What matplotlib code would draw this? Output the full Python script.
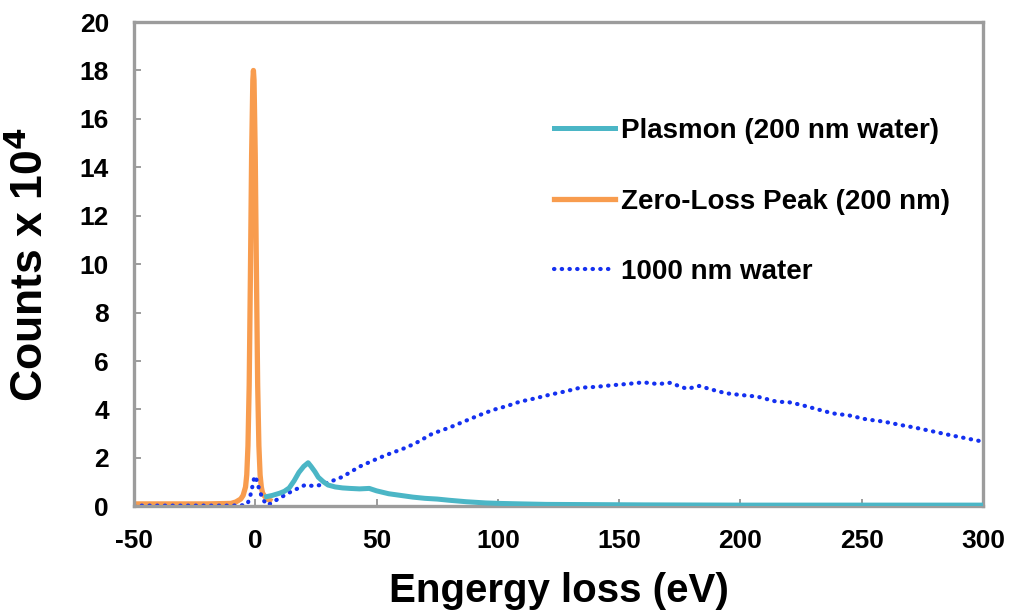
import matplotlib.pyplot as plt
from matplotlib.ticker import FixedLocator

# Energy loss spectra (counts x 10^4)
zlp_x = [-50, -40, -30, -20, -10, -8, -6, -5, -4, -3.5, -3, -2.5, -2, -1.5, -1,
         -0.75, -0.5, 0, 0.5, 1, 1.5, 2, 2.5, 3, 4, 5, 6]
zlp_y = [0.1, 0.1, 0.1, 0.1, 0.12, 0.18, 0.3, 0.45, 0.8, 1.3, 2.5, 5.0, 9.5, 14.5, 17.6,
         18.0, 17.6, 14.5, 9.5, 5.0, 2.5, 1.3, 0.8, 0.55, 0.4, 0.3, 0.25]

plasmon_x = [4.7, 7, 10, 12, 14, 16, 18, 20, 21.8, 23, 24.6, 26, 28, 30, 33, 36, 39,
             43, 47, 50, 55, 60, 65, 70, 75, 80, 87, 95, 101, 110, 120, 140, 160,
             200, 250, 300]
plasmon_y = [0.4, 0.45, 0.54, 0.62, 0.76, 1.05, 1.4, 1.65, 1.8, 1.65, 1.43, 1.2, 1.02,
             0.88, 0.8, 0.76, 0.74, 0.72, 0.74, 0.64, 0.52, 0.45, 0.38, 0.33, 0.3,
             0.25, 0.19, 0.14, 0.12, 0.1, 0.08, 0.07, 0.06, 0.05, 0.05, 0.05]

water_x = [-50, -40, -30, -20, -10, -4, -3, -2, -1, -0.3, 0.5, 1.5, 3, 5, 7, 9, 12,
           15, 18, 20.5, 24, 27, 31, 36, 43, 49, 54, 61, 66, 73, 80, 86, 92, 98,
           104, 109, 115, 121, 128, 134, 140, 147, 153, 160, 166, 171, 178, 183,
           189, 194, 200, 207, 215, 220, 225, 232, 238, 245, 252, 259, 266, 272,
           280, 286, 293, 300]
water_y = [0.03, 0.03, 0.03, 0.03, 0.03, 0.05, 0.15, 0.45, 0.9, 1.25, 1.1, 0.75,
           0.3, 0.05, 0.15, 0.28, 0.45, 0.62, 0.76, 0.88, 0.84, 0.88, 1.02, 1.22,
           1.64, 1.91, 2.12, 2.38, 2.6, 3.0, 3.25, 3.5, 3.75, 3.98, 4.15, 4.32,
           4.45, 4.6, 4.75, 4.9, 4.93, 5.0, 5.05, 5.12, 5.05, 5.1, 4.85, 4.97,
           4.8, 4.67, 4.6, 4.53, 4.32, 4.3, 4.19, 4.0, 3.84, 3.75, 3.59, 3.5,
           3.36, 3.25, 3.08, 2.95, 2.81, 2.67]

x_ticks = [-50, 0, 50, 100, 150, 200, 250, 300]
y_ticks = [0, 2, 4, 6, 8, 10, 12, 14, 16, 18, 20]

plt.rcParams['font.family'] = ['Liberation Sans', 'DejaVu Sans']
plt.rcParams['font.weight'] = 'bold'
plt.rcParams['axes.unicode_minus'] = False

fig = plt.figure(figsize=(10.11, 6.15), dpi=100)
ax = fig.add_axes([0.1325, 0.1767, 0.8398, 0.7875])

l3, = ax.plot(water_x, water_y, color='#1430f0', lw=3.0, linestyle=(0, (0.1, 1.75)),
              dash_capstyle='round', zorder=2, label='1000 nm water')
l1, = ax.plot(plasmon_x, plasmon_y, color='#4bb6c6', lw=3.6, zorder=3,
              label='Plasmon (200 nm water)')
l2, = ax.plot(zlp_x, zlp_y, color='#f89c4e', lw=3.8, zorder=1,
              label='Zero-Loss Peak (200 nm)')

ax.set_xlim(-50, 300)
ax.set_ylim(0, 20)
ax.xaxis.set_major_locator(FixedLocator(x_ticks))
ax.yaxis.set_major_locator(FixedLocator(y_ticks))

for s in ax.spines.values():
    s.set_color('#9c9c9c')
    s.set_linewidth(2.4)
ax.tick_params(direction='in', length=5, width=1.4, color='#9c9c9c',
               labelsize=19)
ax.tick_params(axis='y', pad=18)
ax.tick_params(axis='x', pad=16)

ax.set_xlabel('Engergy loss (eV)', fontsize=29, fontweight='bold', labelpad=14)
ax.set_ylabel('Counts x 10$^{\\mathbf{4}}$', fontsize=32, fontweight='bold', labelpad=20)

ax.legend(handles=[l1, l2, l3], loc='upper left', bbox_to_anchor=(0.548, 0.808),
          bbox_transform=fig.transFigure, frameon=False, fontsize=20,
          labelspacing=1.6, handlelength=2.2, handletextpad=0.2, borderpad=0,
          borderaxespad=0)

fig.savefig('out.png', dpi=100)
